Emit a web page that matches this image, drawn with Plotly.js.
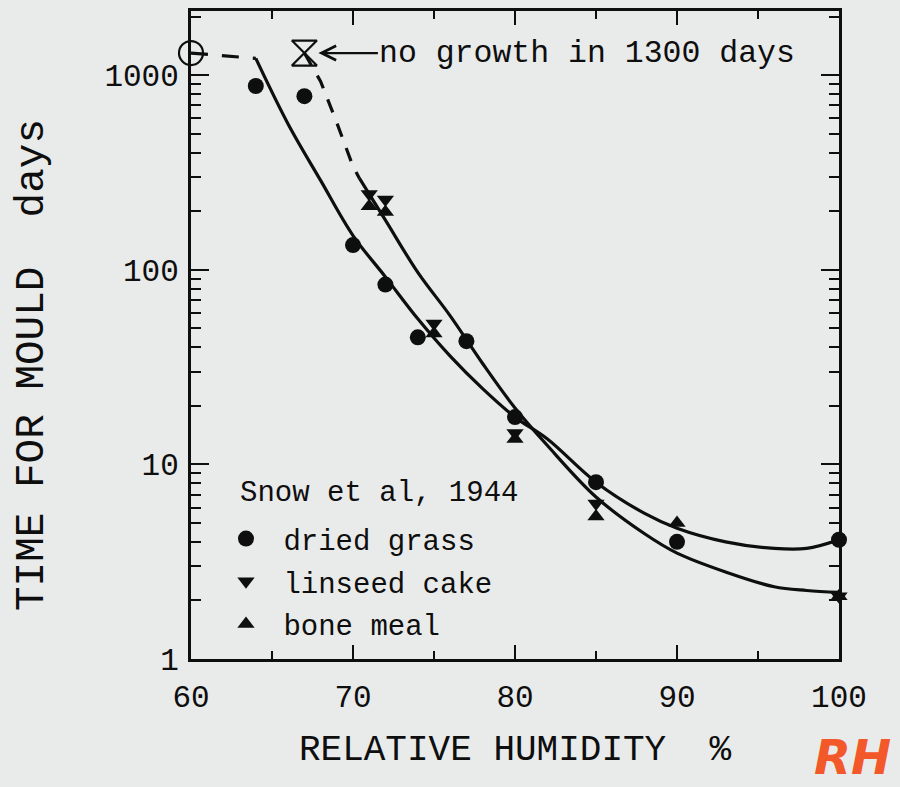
<!DOCTYPE html>
<html>
<head>
<meta charset="utf-8">
<script src="https://cdn.plot.ly/plotly-3.0.1.min.js"></script>
<style>
  html, body { margin: 0; padding: 0; background: #e9eaea; }
  #chart { width: 900px; height: 787px; }
</style>
</head>
<body>
<div id="chart"></div>
<script>
// ---- Data (Snow et al, 1944) ----
// Measured points
const grassRH   = [64, 67, 70, 72, 74, 77, 80, 85, 90, 100];
const grassDays = [880, 780, 134, 84, 45, 43, 17.5, 8.1, 4.0, 4.1];

const linseedRH   = [71, 72, 75, 80, 85, 100];
const linseedDays = [245, 230, 53, 14.5, 6.3, 2.1];

const boneRH   = [71, 72, 75, 80, 85, 90, 100];
const boneDays = [212, 198, 47, 13.5, 5.4, 5.0, 2.1];

// "no growth" markers
const noGrowthCircleRH = [60];
const noGrowthCircleDays = [1300];
const noGrowthHourRH = [67];
const noGrowthHourDays = [1300];

// Fitted curves
const fitA_RH   = [64, 66, 68, 70, 72, 74, 76, 78, 80, 82, 85, 88, 90, 93, 96, 98, 100];
const fitA_Days = [1220, 560, 288, 150, 92, 56, 36, 24.5, 17.5, 13.5, 8.1, 5.6, 4.7, 4.0, 3.7, 3.7, 4.1];

const fitB_RH   = [70.4, 72, 74, 76, 78, 80, 82, 85, 88, 90, 93, 96, 98, 100];
const fitB_Days = [295, 180, 97, 58, 33, 19.5, 12.5, 6.8, 4.4, 3.5, 2.8, 2.35, 2.25, 2.2];

// Dashed extrapolations
const dashA_RH   = [60, 64];
const dashA_Days = [1300, 1220];
const dashB_RH   = [67, 68, 69, 70, 70.4];
const dashB_Days = [1300, 930, 570, 340, 295];

// Axis ticks and texts
const xTicks = [60, 70, 80, 90, 100];
const yTicks = [1, 10, 100, 1000];
const yTickText = ['1', '10', '100', '1000'];
const legendTitle = 'Snow et al, 1944';
const noteText = 'no growth in 1300 days';

const FONT = 'Liberation Mono, Courier New, monospace';
const INK = '#0e0e0e';
const BG = '#e9eaea';

const yMinor = [];
for (let d = 1; d <= 1000; d *= 10) {
  for (let k = 2; k <= 9; k++) yMinor.push(k * d);
}

const lineStyle = {color: INK, width: 3.2};

const traces = [
  {x: dashA_RH, y: dashA_Days, mode: 'lines', line: {color: INK, width: 3.2, dash: '17px,14px'},
   showlegend: false, hoverinfo: 'skip', cliponaxis: false},
  {x: dashB_RH, y: dashB_Days, mode: 'lines', line: {color: INK, width: 3.2, dash: '14px,12px'},
   showlegend: false, hoverinfo: 'skip'},
  {x: fitA_RH, y: fitA_Days, mode: 'lines', line: Object.assign({shape: 'spline'}, lineStyle),
   showlegend: false, hoverinfo: 'skip', cliponaxis: false},
  {x: fitB_RH, y: fitB_Days, mode: 'lines', line: Object.assign({shape: 'spline'}, lineStyle),
   showlegend: false, hoverinfo: 'skip', cliponaxis: false},
  {x: grassRH, y: grassDays, mode: 'markers', name: '\u00A0dried grass', legendgroup: 'a',
   marker: {symbol: 'circle', size: 16, color: INK}, cliponaxis: false},
  {x: linseedRH, y: linseedDays, mode: 'markers', name: '\u00A0linseed cake', legendgroup: 'b',
   marker: {symbol: 'triangle-down', size: 15, color: INK}, cliponaxis: false},
  {x: boneRH, y: boneDays, mode: 'markers', name: '\u00A0bone meal', legendgroup: 'c',
   marker: {symbol: 'triangle-up', size: 15, color: INK}, cliponaxis: false},
  {x: noGrowthCircleRH, y: noGrowthCircleDays, mode: 'markers', showlegend: false,
   marker: {symbol: 'circle-open', size: 24, color: INK, line: {width: 2.2, color: INK}}, cliponaxis: false},
  {x: noGrowthHourRH, y: noGrowthHourDays, mode: 'markers', showlegend: false,
   marker: {symbol: 'hourglass-open', size: 25, color: INK, line: {width: 2.2, color: INK}}, cliponaxis: false}
];

const layout = {
  width: 900, height: 787,
  paper_bgcolor: BG, plot_bgcolor: BG,
  margin: {l: 191, r: 61, t: 11, b: 128},
  font: {family: FONT, color: INK},
  showlegend: true,
  legend: {
    x: 0.054, y: 0.225, xanchor: 'left', yanchor: 'top',
    bgcolor: 'rgba(0,0,0,0)', borderwidth: 0,
    font: {family: FONT, size: 29, color: INK},
    tracegroupgap: 2, traceorder: 'grouped', itemwidth: 30
  },
  xaxis: {
    range: [60, 100], tickmode: 'array', tickvals: xTicks,
    ticks: 'inside', ticklen: 14, tickwidth: 2, tickcolor: INK,
    minor: {dtick: 5, ticks: 'inside', ticklen: 8, tickwidth: 2, tickcolor: INK},
    showline: true, linewidth: 3, linecolor: INK, mirror: 'ticks',
    showgrid: false, zeroline: false,
    tickfont: {family: FONT, size: 31, color: INK},
    ticklabelstandoff: 8,
    title: {text: 'RELATIVE HUMIDITY \u00A0%', font: {family: FONT, size: 36, color: INK}, standoff: 20}
  },
  yaxis: {
    type: 'log', range: [0, 3.33], tickmode: 'array', tickvals: yTicks, ticktext: yTickText,
    ticks: 'inside', ticklen: 18, tickwidth: 2, tickcolor: INK,
    minor: {tickmode: 'array', tickvals: yMinor, ticks: 'inside', ticklen: 10, tickwidth: 2, tickcolor: INK},
    showline: true, linewidth: 3, linecolor: INK, mirror: 'ticks',
    showgrid: false, zeroline: false,
    tickfont: {family: FONT, size: 31, color: INK},
    ticklabelstandoff: 3
  },
  annotations: [
    {x: 67, y: Math.log10(1300), xref: 'x', yref: 'y',
     text: noteText, font: {family: FONT, size: 31.5, color: INK},
     showarrow: true, arrowhead: 5, arrowsize: 1.3, arrowwidth: 2.2, arrowcolor: INK,
     ax: 283, ay: 0, standoff: 14},
    {x: -0.245, y: 0.454, xref: 'paper', yref: 'paper', textangle: -90,
     text: 'TIME FOR MOULD \u00A0days', showarrow: false,
     font: {family: FONT, size: 41, color: INK}, xanchor: 'center', yanchor: 'middle'},
    {x: (238 - 191) / 648, y: (659 - 493) / 648, xref: 'paper', yref: 'paper', text: legendTitle,
     showarrow: false, xanchor: 'left', yanchor: 'middle',
     font: {family: FONT, size: 29, color: INK}},
    {x: 1.0216, y: -0.152, xref: 'paper', yref: 'paper', text: 'RH', showarrow: false,
     font: {family: 'DejaVu Sans, sans-serif', size: 48, color: '#f2582a', style: 'italic', weight: 'bold'},
     xanchor: 'center', yanchor: 'middle'}
  ]
};

Plotly.newPlot('chart', traces, layout, {displayModeBar: false, staticPlot: true});
</script>
</body>
</html>
